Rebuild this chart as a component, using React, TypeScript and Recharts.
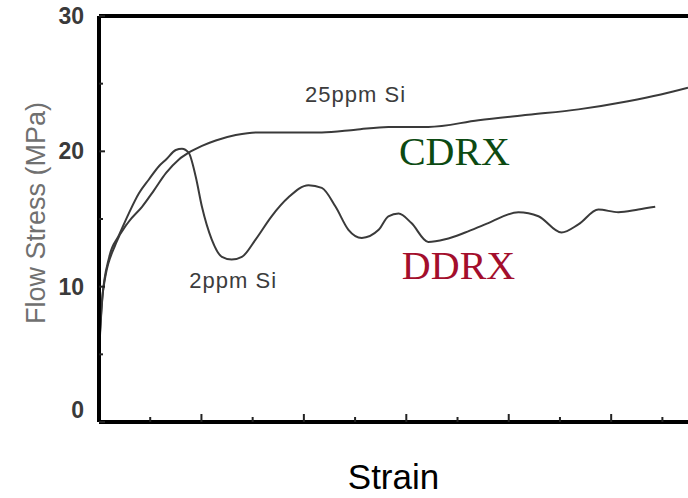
import React from 'react';
import {
  LineChart,
  Line,
  XAxis,
  YAxis,
  ReferenceLine,
  ReferenceDot,
} from 'recharts';

// strain (tick = 0.1) vs flow stress (MPa)
const strain25 = [0, 0.008, 0.033, 0.058, 0.084, 0.107, 0.131, 0.156, 0.175, 0.201, 0.228, 0.267, 0.306, 0.37, 0.435, 0.501, 0.565, 0.643, 0.741, 0.838, 0.936, 1.033, 1.097, 1.15];
const stress25 = [5.0, 9.7, 13.2, 14.8, 15.9, 17.1, 18.4, 19.4, 19.9, 20.4, 20.8, 21.2, 21.4, 21.4, 21.4, 21.6, 21.8, 21.8, 22.3, 22.7, 23.1, 23.7, 24.2, 24.7];

const strain2 = [0, 0.006, 0.02, 0.039, 0.058, 0.078, 0.097, 0.117, 0.131, 0.15, 0.162, 0.175, 0.189, 0.201, 0.22, 0.24, 0.259, 0.279, 0.306, 0.337, 0.37, 0.409, 0.435, 0.462, 0.487, 0.513, 0.546, 0.565, 0.585, 0.61, 0.643, 0.676, 0.715, 0.76, 0.819, 0.858, 0.903, 0.936, 0.975, 1.014, 1.053, 1.086];
const stress2 = [5.3, 9.0, 12.2, 13.8, 15.4, 16.9, 17.9, 18.9, 19.4, 20.1, 20.2, 19.9, 18.1, 15.9, 13.5, 12.2, 12.0, 12.2, 13.5, 15.2, 16.6, 17.5, 17.3, 15.9, 14.2, 13.6, 14.2, 15.2, 15.4, 14.7, 13.3, 13.5, 14.0, 14.7, 15.5, 15.2, 14.0, 14.6, 15.7, 15.5, 15.7, 15.9];

const yTicks = [0, 5, 10, 15, 20, 25, 30];
const xTicks = [0.1, 0.2, 0.3, 0.4, 0.5, 0.6, 0.7, 0.8, 0.9, 1.0, 1.1];

const data25 = strain25.map((s, i) => ({ strain: s, stress: stress25[i] }));
const data2 = strain2.map((s, i) => ({ strain: s, stress: stress2[i] }));

const curveColor = '#3a3a3a';

// label left of axis for 0/10/20/30, small inward tick for every value
const YTick = (props: any) => {
  const { x, y, payload } = props;
  const v = payload.value as number;
  const major = v % 10 === 0;
  return (
    <g>
      <line x1={x} x2={x + (major ? 6 : 4)} y1={y} y2={y} stroke="#222" strokeWidth={2} />
      {major && (
        <text
          x={x - 15}
          y={y}
          dy={v === 0 ? -4 : 8}
          textAnchor="end"
          fill="#3a3a3a"
          fontSize={23}
          fontWeight="bold"
          fontFamily="Liberation Sans, Arial, sans-serif"
        >
          {v}
        </text>
      )}
    </g>
  );
};

const XTick = (props: any) => {
  const { x, y, payload } = props;
  const major = Math.round(payload.value * 10) % 2 === 0;
  return <line x1={x} x2={x} y1={y} y2={y - (major ? 8 : 5)} stroke="#222" strokeWidth={2} />;
};

const YLabel = (props: any) => {
  const { viewBox } = props;
  const cx = viewBox.x + 36;
  const cy = 213;
  return (
    <text
      x={cx}
      y={cy}
      transform={`rotate(-90, ${cx}, ${cy})`}
      textAnchor="middle"
      dominantBaseline="central"
      fill="#707070"
      fontSize={27}
      fontFamily="Liberation Sans, Arial, sans-serif"
    >
      Flow Stress (MPa)
    </text>
  );
};

const sansLabel = { fill: '#3c3c3c', fontSize: 22, letterSpacing: 1, fontFamily: 'Liberation Sans, Arial, sans-serif' };
const serifLabel = { fontSize: 40, fontFamily: 'Liberation Serif, Times New Roman, serif' };

const App: React.FC = () => {
  return (
    <div style={{ position: 'absolute', left: 0, top: 0, width: 688, height: 498, background: '#fff' }}>
      <LineChart width={688} height={498} margin={{ top: 16, right: 0, left: 0, bottom: 0 }}>
        <XAxis
          type="number"
          dataKey="strain"
          domain={[0, 1.15]}
          ticks={xTicks}
          allowDataOverflow
          axisLine={{ stroke: '#000', strokeWidth: 4 }}
          tickLine={false}
          tickSize={0}
          tickMargin={0}
          tick={<XTick />}
          height={76}
          label={{
            value: 'Strain',
            position: 'insideBottom',
            offset: 9,
            fill: '#000',
            fontSize: 35,
            fontFamily: 'Liberation Sans, Arial, sans-serif',
          }}
        />
        <YAxis
          type="number"
          domain={[0, 30]}
          ticks={yTicks}
          width={99}
          axisLine={{ stroke: '#000', strokeWidth: 4 }}
          tickLine={false}
          tickSize={0}
          tickMargin={0}
          tick={<YTick />}
          label={<YLabel />}
        />
        <ReferenceLine y={30} stroke="#000" strokeWidth={4} />
        <Line
          data={data25}
          dataKey="stress"
          type="monotone"
          stroke={curveColor}
          strokeWidth={2}
          dot={false}
          isAnimationActive={false}
        />
        <Line
          data={data2}
          dataKey="stress"
          type="monotone"
          stroke={curveColor}
          strokeWidth={2}
          dot={false}
          isAnimationActive={false}
        />
        <ReferenceDot x={0.501} y={24.2} r={0} stroke="none" label={{ value: '25ppm Si', position: 'center', ...sansLabel }} />
        <ReferenceDot x={0.262} y={10.5} r={0} stroke="none" label={{ value: '2ppm Si', position: 'center', ...sansLabel }} />
        <ReferenceDot x={0.694} y={20.07} r={0} stroke="none" label={{ value: 'CDRX', position: 'center', fill: '#0c4a12', ...serifLabel }} />
        <ReferenceDot x={0.702} y={11.6} r={0} stroke="none" label={{ value: 'DDRX', position: 'center', fill: '#a30e2c', ...serifLabel }} />
      </LineChart>
    </div>
  );
};

export default App;
